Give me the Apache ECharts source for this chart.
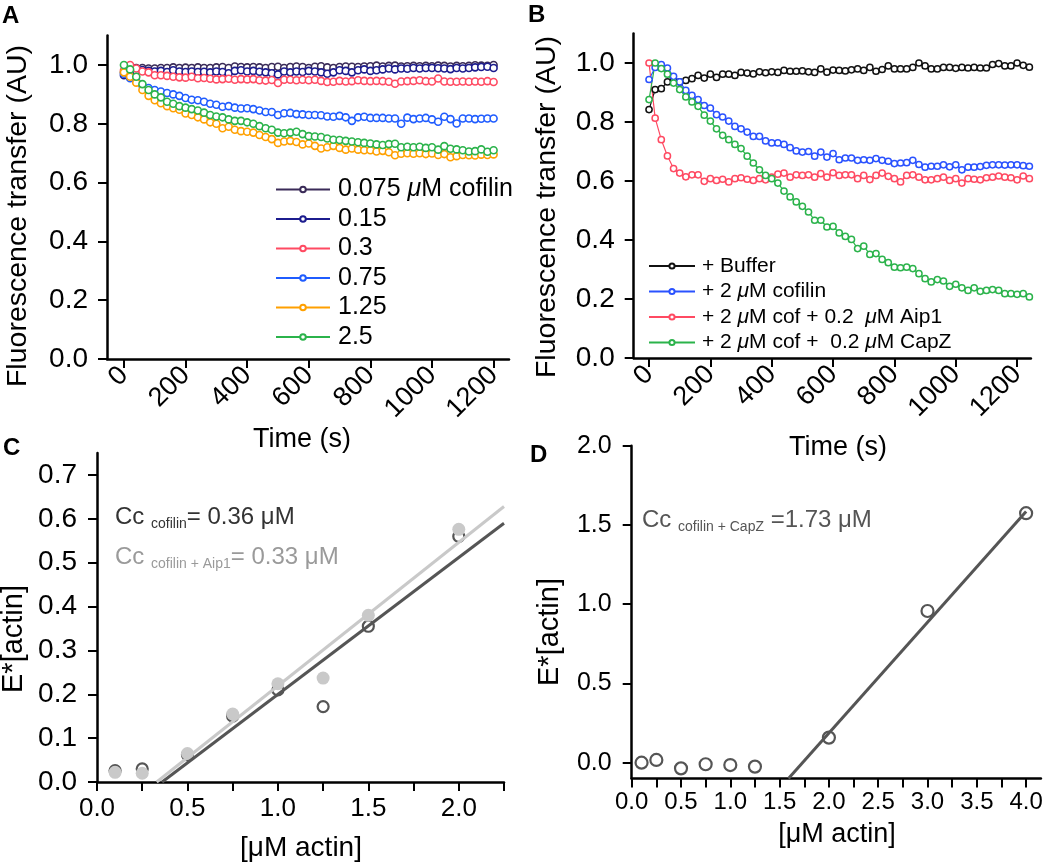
<!DOCTYPE html>
<html><head><meta charset="utf-8">
<script src="https://cdn.jsdelivr.net/npm/echarts@6/dist/echarts.min.js"></script>
<style>html,body{margin:0;padding:0;background:#fff}#c{width:1050px;height:868px}</style>
</head><body><div id="c"></div>
<script>
// ---------- Panel A data (time in s, fluorescence transfer AU) ----------
const timeA = [0,20,40,60,80,100,120,140,160,180,200,220,240,260,280,300,320,340,360,380,400,420,440,460,480,500,520,540,560,580,600,620,640,660,680,700,720,740,760,780,800,820,840,860,880,900,920,940,960,980,1000,1020,1040,1060,1080,1100,1120,1140,1160,1180,1200];
const cof0075 = [0.975,0.985,0.99,0.99,0.988,0.988,0.99,0.99,0.992,0.99,0.991,0.99,0.992,0.99,0.99,0.992,0.993,0.99,0.995,0.993,0.992,0.993,0.992,0.99,0.993,0.994,0.99,0.993,0.995,0.993,0.99,0.994,0.996,0.992,0.99,0.993,0.995,0.994,0.993,0.995,0.996,0.998,0.995,0.997,0.998,0.995,0.996,0.997,0.996,0.997,0.996,0.998,0.997,0.995,0.997,0.996,0.997,0.999,0.998,0.997,1.0];
const cof015 = [0.965,0.975,0.98,0.983,0.98,0.978,0.98,0.976,0.982,0.978,0.976,0.978,0.976,0.977,0.975,0.978,0.976,0.972,0.98,0.982,0.978,0.98,0.977,0.975,0.972,0.968,0.978,0.975,0.978,0.976,0.98,0.978,0.975,0.97,0.975,0.982,0.98,0.975,0.982,0.985,0.98,0.982,0.985,0.988,0.985,0.988,0.987,0.99,0.988,0.99,0.99,0.989,0.988,0.986,0.99,0.988,0.99,0.992,0.993,0.994,0.99];
const cof03 = [0.982,1.0,0.988,0.978,0.975,0.965,0.965,0.963,0.96,0.958,0.957,0.96,0.955,0.956,0.953,0.951,0.952,0.953,0.95,0.952,0.951,0.952,0.948,0.947,0.949,0.939,0.95,0.95,0.948,0.95,0.948,0.95,0.946,0.942,0.943,0.946,0.944,0.945,0.948,0.946,0.945,0.946,0.945,0.943,0.936,0.944,0.945,0.946,0.948,0.945,0.944,0.954,0.944,0.943,0.943,0.944,0.943,0.944,0.943,0.945,0.942];
const cof075 = [0.97,0.955,0.945,0.93,0.922,0.915,0.91,0.905,0.9,0.895,0.888,0.882,0.88,0.875,0.868,0.865,0.858,0.86,0.855,0.852,0.853,0.85,0.845,0.84,0.84,0.83,0.836,0.837,0.833,0.832,0.83,0.83,0.829,0.825,0.824,0.827,0.822,0.81,0.822,0.824,0.82,0.82,0.82,0.818,0.818,0.8,0.821,0.816,0.818,0.82,0.815,0.807,0.824,0.816,0.801,0.818,0.818,0.816,0.817,0.818,0.818];
const cof125 = [0.975,0.96,0.94,0.915,0.895,0.88,0.87,0.86,0.853,0.848,0.835,0.83,0.822,0.815,0.805,0.8,0.785,0.79,0.78,0.775,0.773,0.77,0.762,0.755,0.748,0.735,0.74,0.742,0.738,0.73,0.733,0.725,0.716,0.72,0.725,0.718,0.712,0.716,0.712,0.71,0.71,0.706,0.708,0.703,0.693,0.698,0.7,0.698,0.7,0.697,0.699,0.694,0.697,0.686,0.69,0.694,0.693,0.692,0.695,0.694,0.696];
const cof25 = [1.0,0.985,0.96,0.935,0.915,0.9,0.89,0.875,0.868,0.86,0.855,0.85,0.845,0.838,0.83,0.825,0.822,0.815,0.81,0.81,0.805,0.8,0.792,0.785,0.78,0.77,0.768,0.77,0.773,0.765,0.758,0.757,0.755,0.75,0.746,0.745,0.742,0.74,0.737,0.735,0.733,0.73,0.728,0.731,0.732,0.72,0.722,0.72,0.722,0.718,0.72,0.712,0.724,0.715,0.713,0.71,0.706,0.707,0.713,0.705,0.71];
const namesA = ['0.075 μM cofilin','0.15','0.3','0.75','1.25','2.5'];
const colorsA = ['#3a2b58','#1c1c8e','#ff4a62','#1f5cff','#ffa000','#2bb34b'];

// ---------- Panel B data ----------
const timeB = [0,20,40,60,80,100,120,140,160,180,200,220,240,260,280,300,320,340,360,380,400,420,440,460,480,500,520,540,560,580,600,620,640,660,680,700,720,740,760,780,800,820,840,860,880,900,920,940,960,980,1000,1020,1040,1060,1080,1100,1120,1140,1160,1180,1200,1220,1240];
const buffer = [0.842,0.91,0.913,0.936,0.941,0.936,0.941,0.947,0.958,0.949,0.962,0.951,0.962,0.962,0.958,0.968,0.966,0.963,0.97,0.967,0.97,0.968,0.975,0.972,0.972,0.973,0.97,0.968,0.98,0.969,0.976,0.975,0.973,0.977,0.98,0.975,0.985,0.972,0.978,0.99,0.98,0.98,0.98,0.985,1.0,0.99,0.98,0.98,0.985,0.985,0.982,0.985,0.983,0.985,0.983,0.983,0.995,0.998,0.99,0.99,1.0,0.992,0.986];
const cofilin2 = [0.944,0.985,0.995,0.983,0.955,0.936,0.907,0.89,0.876,0.856,0.847,0.825,0.817,0.803,0.785,0.777,0.766,0.751,0.751,0.736,0.729,0.729,0.724,0.713,0.702,0.698,0.7,0.684,0.698,0.681,0.693,0.672,0.678,0.678,0.67,0.672,0.67,0.676,0.67,0.667,0.659,0.661,0.662,0.67,0.656,0.647,0.65,0.65,0.655,0.648,0.655,0.638,0.647,0.647,0.649,0.653,0.655,0.655,0.654,0.655,0.655,0.652,0.65];
const aip1 = [1.0,0.813,0.74,0.685,0.642,0.627,0.614,0.621,0.621,0.599,0.608,0.602,0.606,0.597,0.608,0.611,0.606,0.602,0.608,0.604,0.613,0.623,0.627,0.613,0.621,0.619,0.621,0.613,0.625,0.613,0.628,0.619,0.621,0.621,0.608,0.619,0.605,0.619,0.627,0.616,0.608,0.597,0.619,0.621,0.613,0.604,0.604,0.608,0.613,0.602,0.608,0.593,0.608,0.606,0.604,0.611,0.613,0.617,0.613,0.611,0.604,0.617,0.608];
const capz = [0.876,1.0,0.981,0.962,0.932,0.91,0.885,0.868,0.853,0.823,0.803,0.777,0.755,0.74,0.724,0.71,0.684,0.661,0.638,0.619,0.608,0.593,0.566,0.546,0.529,0.514,0.495,0.467,0.467,0.444,0.446,0.424,0.412,0.402,0.371,0.379,0.351,0.354,0.334,0.323,0.308,0.306,0.308,0.303,0.286,0.269,0.258,0.266,0.261,0.243,0.25,0.238,0.229,0.238,0.226,0.229,0.232,0.229,0.218,0.218,0.216,0.218,0.207];
const namesB = ['+ Buffer','+ 2 μM cofilin','+ 2 μM cof + 0.2  μM Aip1','+ 2 μM cof +  0.2 μM CapZ'];
const colorsB = ['#111111','#2a52ff','#ff4a62','#2bb34b'];

// ---------- Panel C data ----------
const actinC = [0.1,0.25,0.5,0.75,1.0,1.25,1.5,2.0];
const eCofilin = [0.026,0.03,0.062,0.15,0.21,0.172,0.355,0.56];
const eAip1 = [0.022,0.02,0.065,0.155,0.224,0.237,0.38,0.576];
const fitCofilinX = [0.36,2.25], fitCofilinY = [0,0.59];
const fitAip1X = [0.33,2.25], fitAip1Y = [0,0.628];

// ---------- Panel D data ----------
const actinD = [0.1,0.25,0.5,0.75,1.0,1.25,1.5,2.0,3.0,4.0];
const eCapZ = [0.0,0.017,-0.036,-0.01,-0.015,-0.025,-0.12,0.158,0.957,1.574];
const fitCapZX = [1.59,4.0], fitCapZY = [-0.1,1.585];

// ---------- tick values ----------
const ticksTime = [0,200,400,600,800,1000,1200];
const ticksFluor = [0,0.2,0.4,0.6,0.8,1.0];
const ticksCx = [0,0.25,0.5,0.75,1.0,1.25,1.5,1.75,2.0,2.25];
const labelsCx = [0,0.5,1.0,1.5,2.0];
const ticksCy = [0,0.1,0.2,0.3,0.4,0.5,0.6,0.7];
const ticksDx = [0,0.25,0.5,0.75,1.0,1.25,1.5,1.75,2.0,2.25,2.5,2.75,3.0,3.25,3.5,3.75,4.0];
const labelsDx = [0,0.5,1.0,1.5,2.0,2.5,3.0,3.5,4.0];
const ticksDy = [0,0.5,1.0,1.5,2.0];

const FF = '"Liberation Sans", Arial, Helvetica, sans-serif';
const zip = (xs, ys) => xs.map((x, i) => [x, ys[i]]);

function axis(gridIndex, min, max, tickVals, labelVals, fs, margin) {
  return {
    type: 'value', gridIndex: gridIndex, min: min, max: max,
    axisLine: { show: true, onZero: false, lineStyle: { color: '#000', width: 2.5 } },
    axisTick: { show: true, length: 9, customValues: tickVals, lineStyle: { color: '#000', width: 2 } },
    axisLabel: { customValues: labelVals, fontSize: fs, margin: margin, color: '#000', fontFamily: FF,
      formatter: v => Number(v).toFixed(1) },
    splitLine: { show: false }
  };
}

const grids = [
  { left: 107, top: 35.6, width: 402, height: 323.4 },
  { left: 633.7, top: 33.5, width: 397.2, height: 324.5 },
  { left: 97, top: 453, width: 407, height: 329 },
  { left: 631.7, top: 445.7, width: 409.2, height: 332.8 }
].map(g => Object.assign({ containLabel: false, outerBoundsMode: 'none' }, g));

const xAxes = [
  axis(0, -55, 1250, ticksTime, ticksTime, 27, 12),
  axis(1, -50, 1245, ticksTime, ticksTime, 27, 12),
  axis(2, 0, 2.25, ticksCx, labelsCx, 26, 14),
  axis(3, 0, 4.15, ticksDx, labelsDx, 24, 12)
];
xAxes[0].axisLabel.rotate = 45; xAxes[0].axisLabel.formatter = v => String(v);
xAxes[1].axisLabel.rotate = 45; xAxes[1].axisLabel.formatter = v => String(v);
const yAxes = [
  axis(0, 0, 1.1, ticksFluor, ticksFluor, 28, 19),
  axis(1, 0, 1.1, ticksFluor, ticksFluor, 28, 19),
  axis(2, 0, 0.75, ticksCy, ticksCy, 28, 20),
  axis(3, -0.1, 2.0, ticksDy, ticksDy, 25, 20)
];

const series = [];
[cof0075, cof015, cof03, cof075, cof125, cof25].forEach((arr, k) => {
  series.push({
    type: 'line', name: namesA[k], xAxisIndex: 0, yAxisIndex: 0,
    data: zip(timeA, arr), symbol: 'circle', symbolSize: 7, showSymbol: true,
    lineStyle: { color: colorsA[k], width: 1.2 },
    itemStyle: { color: '#fff', borderColor: colorsA[k], borderWidth: 1.6 },
    emphasis: { disabled: true }
  });
});
[buffer, cofilin2, aip1, capz].forEach((arr, k) => {
  series.push({
    type: 'line', name: namesB[k], xAxisIndex: 1, yAxisIndex: 1,
    data: zip(timeB, arr), symbol: 'circle', symbolSize: 6.2, showSymbol: true,
    lineStyle: { color: colorsB[k], width: 1.2 },
    itemStyle: { color: '#fff', borderColor: colorsB[k], borderWidth: 1.5 },
    emphasis: { disabled: true }
  });
});
series.push({ type: 'line', xAxisIndex: 2, yAxisIndex: 2, data: zip(fitCofilinX, fitCofilinY),
  symbol: 'none', lineStyle: { color: '#555', width: 3 }, emphasis: { disabled: true } });
series.push({ type: 'line', xAxisIndex: 2, yAxisIndex: 2, data: zip(fitAip1X, fitAip1Y),
  symbol: 'none', lineStyle: { color: '#c9c9c9', width: 3 }, emphasis: { disabled: true } });
series.push({ type: 'scatter', xAxisIndex: 2, yAxisIndex: 2, data: zip(actinC, eCofilin),
  symbol: 'circle', symbolSize: 11,
  itemStyle: { color: 'rgba(255,255,255,0)', borderColor: '#555', borderWidth: 2.2, opacity: 1 },
  emphasis: { disabled: true } });
series.push({ type: 'scatter', xAxisIndex: 2, yAxisIndex: 2, data: zip(actinC, eAip1),
  symbol: 'circle', symbolSize: 13, itemStyle: { color: '#c9c9c9', opacity: 1 },
  emphasis: { disabled: true } });
series.push({ type: 'line', xAxisIndex: 3, yAxisIndex: 3, data: zip(fitCapZX, fitCapZY),
  symbol: 'none', lineStyle: { color: '#555', width: 3 }, emphasis: { disabled: true } });
series.push({ type: 'scatter', xAxisIndex: 3, yAxisIndex: 3, data: zip(actinD, eCapZ),
  symbol: 'circle', symbolSize: 12,
  itemStyle: { color: 'rgba(255,255,255,0)', borderColor: '#555', borderWidth: 2.2, opacity: 1 },
  emphasis: { disabled: true } });

const legendFmt = n => n.replace(/μ/g, '{i|μ}');
const legends = [
  { data: namesA, orient: 'vertical', left: 270, top: 172, itemWidth: 54, itemHeight: 7, itemGap: 4.5,
    selectedMode: false, formatter: legendFmt,
    textStyle: { fontSize: 25, lineHeight: 25, color: '#000', fontFamily: FF, padding: [0,0,0,3],
      rich: { i: { fontStyle: 'italic', fontSize: 25, lineHeight: 25, color: '#000', fontFamily: FF } } } },
  { data: namesB, orient: 'vertical', left: 643, top: 250.5, itemWidth: 46, itemHeight: 6.5, itemGap: 4.5,
    selectedMode: false, formatter: legendFmt,
    textStyle: { fontSize: 21, lineHeight: 21, color: '#000', fontFamily: FF, padding: [0,0,0,2],
      rich: { i: { fontStyle: 'italic', fontSize: 21, lineHeight: 21, color: '#000', fontFamily: FF } } } }
];

function txt(x, y, text, size, opts) {
  opts = opts || {};
  return { type: 'text', x: x, y: y, rotation: opts.rot || 0, z: 10,
    style: { text: text, fontSize: size, fontFamily: FF, fontWeight: opts.bold ? 'bold' : 'normal',
      fill: opts.color || '#000', align: opts.align || 'center', verticalAlign: opts.va || 'middle' } };
}
function ccText(x, y, sub, rest, color) {
  return { type: 'text', x: x, y: y, z: 10,
    style: { text: '{n|Cc }{s|' + sub + '}{n|' + rest + '}', align: 'left', verticalAlign: 'middle',
      rich: {
        n: { fontSize: 24, lineHeight: 28, fill: color, fontFamily: FF },
        s: { fontSize: 14, lineHeight: 16, fill: color, fontFamily: FF, verticalAlign: 'bottom' }
      } } };
}

const graphics = [
  txt(2, 4, 'A', 24, { bold: true, align: 'left', va: 'top' }),
  txt(528, 3, 'B', 24, { bold: true, align: 'left', va: 'top' }),
  txt(3, 436, 'C', 24, { bold: true, align: 'left', va: 'top' }),
  txt(530, 443, 'D', 24, { bold: true, align: 'left', va: 'top' }),
  txt(18, 216, 'Fluorescence transfer (AU)', 28.5, { rot: Math.PI / 2 }),
  txt(547, 207, 'Fluorescence transfer (AU)', 28.5, { rot: Math.PI / 2 }),
  txt(14, 639, 'E*[actin]', 29, { rot: Math.PI / 2 }),
  txt(550, 632, 'E*[actin]', 29, { rot: Math.PI / 2 }),
  txt(302, 440, 'Time (s)', 27),
  txt(838, 448, 'Time (s)', 27),
  txt(301, 848, '[μM actin]', 28),
  txt(837, 835, '[μM actin]', 27),
  ccText(115, 517, 'cofilin', '= 0.36 μM', '#333'),
  ccText(115, 557, 'cofilin + Aip1', '= 0.33 μM', '#9a9a9a'),
  ccText(642, 520, 'cofilin + CapZ', ' =1.73 μM', '#555')
];

const chart = echarts.init(document.getElementById('c'), null, { renderer: 'canvas' });
chart.setOption({
  animation: false,
  backgroundColor: '#fff',
  textStyle: { fontFamily: FF },
  grid: grids, xAxis: xAxes, yAxis: yAxes,
  legend: legends, series: series, graphic: graphics
});
</script></body></html>
